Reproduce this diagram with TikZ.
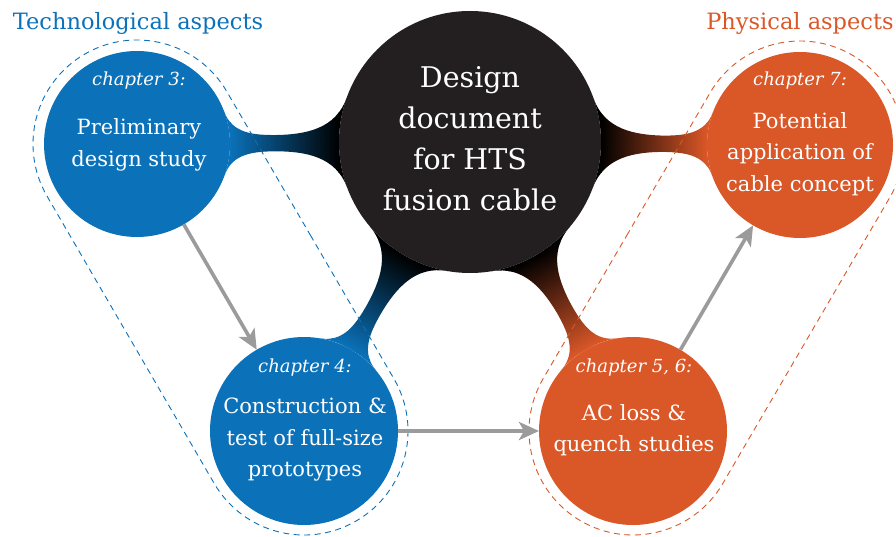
\documentclass[tikz,border=0pt]{standalone}
\usepackage{fontspec}
\setmainfont{DejaVu Serif}
\usetikzlibrary{mindmap,arrows.meta,backgrounds,calc,shapes.misc}
\definecolor{techblue}{RGB}{11,113,185}
\definecolor{physorange}{RGB}{218,87,40}
\definecolor{coreblack}{RGB}{35,31,32}
\definecolor{arrowgray}{RGB}{155,155,155}
\begin{document}
\begin{tikzpicture}[x=1pt,y=-1pt,
  bubble/.style={circle, minimum size=#1, inner sep=0pt, outer sep=0pt, draw=none},
  chaplabel/.style={anchor=base, text=white, font=\fontsize{18}{22}\selectfont\itshape},
  bodytext/.style={anchor=center, align=center, text=white, font=\fontsize{21}{31.5}\selectfont},
  coretext/.style={anchor=center, align=center, text=white, font=\fontsize{28.5}{41}\selectfont},
  grouptitle/.style={anchor=base, font=\fontsize{22.5}{27}\selectfont},
  flowarrow/.style={draw=arrowgray, line width=3.6pt, -{Stealth[length=20pt,width=18pt,inset=5pt]}},
  groupoutline/.style={rounded rectangle, minimum height=208pt, inner sep=0pt, line width=0.9pt, dash pattern=on 6pt off 4.5pt},
  bar/.style={line width=16pt}
]
\useasboundingbox (0,0) rectangle (896,537);

% circles
\node[bubble=262pt, fill=coreblack] (core) at (470,142) {};
\node[bubble=186pt, fill=techblue] (c3) at (137,144) {};
\node[bubble=188pt, fill=techblue] (c4) at (304,431) {};
\node[bubble=188pt, fill=physorange] (c56) at (633,431) {};
\node[bubble=186pt, fill=physorange] (c7) at (800,145) {};

% connection bars
\begin{pgfonlayer}{background}
\path[bar] (core) to[circle connection bar switch color=from (black) to (techblue)] (c3);
\path[bar] (core) to[circle connection bar switch color=from (black) to (techblue)] (c4);
\path[bar] (core) to[circle connection bar switch color=from (black) to (physorange)] (c56);
\path[bar] (core) to[circle connection bar switch color=from (black) to (physorange)] (c7);
\end{pgfonlayer}

% texts
\node[coretext] (coretxt) at (470,139) {Design\\document\\for HTS\\fusion cable};
\node[chaplabel] (c3lab) at (139,86) {chapter 3:};
\node[bodytext] (c3txt) at (139,145) {Preliminary\\design study};
\node[chaplabel] (c4lab) at (305,372) {chapter 4:};
\node[bodytext] (c4txt) at (305,440) {Construction \&\\test of full-size\\prototypes};
\node[chaplabel] (c56lab) at (634,372) {chapter 5, 6:};
\node[bodytext] (c56txt) at (634,430) {AC loss \&\\quench studies};
\node[chaplabel] (c7lab) at (800,86) {chapter 7:};
\node[bodytext] (c7txt) at (800,154) {Potential\\application of\\cable concept};

% group titles
\node[grouptitle, text=techblue] (techtitle) at (138,30) {Technological aspects};
\node[grouptitle, text=physorange] (phystitle) at (800,30) {Physical aspects};

% dashed group outlines
\path let \p1=($(c4)-(c3)$), \n1={atan2(\y1,\x1)}, \n2={veclen(\x1,\y1)} in
  node[groupoutline, draw=techblue, rotate=\n1, minimum width=\n2+208pt] (techgroup) at ($(c3)!0.5!(c4)$) {};
\path let \p1=($(c7)-(c56)$), \n1={atan2(\y1,\x1)}, \n2={veclen(\x1,\y1)} in
  node[groupoutline, draw=physorange, rotate=\n1, minimum width=\n2+208pt] (physgroup) at ($(c56)!0.5!(c7)$) {};

% arrows
\draw[flowarrow] (c3) -- (c4);
\draw[flowarrow] (c4) -- (c56);
\draw[flowarrow] (c56) -- (c7);
\end{tikzpicture}
\end{document}
